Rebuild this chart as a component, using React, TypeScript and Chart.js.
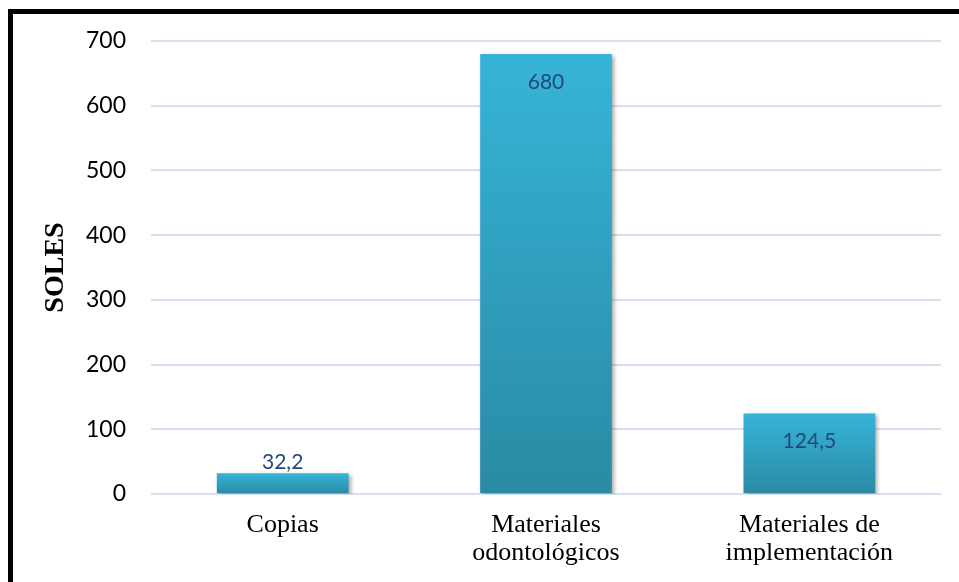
import React, { useEffect, useRef } from "react";
import { Chart, registerables } from "chart.js";

Chart.register(...registerables);

const categories: string[][] = [["Copias"], ["Materiales", "odontológicos"], ["Materiales de", "implementación"]];
const values: number[] = [32.2, 680, 124.5];
const valueLabels: string[] = ["32,2", "680", "124,5"];
const yTicks: number[] = [0, 100, 200, 300, 400, 500, 600, 700];

const TOP_COLOR = "#36B4D8";
const BOTTOM_COLOR = "#2A8AA4";
const LABEL_COLOR = "#23497A";

const shadowPlugin = {
  id: "barShadow",
  beforeDatasetsDraw(chart: any) {
    const ctx = chart.ctx;
    ctx.save();
    ctx.shadowColor = "rgba(0,0,0,0.35)";
    ctx.shadowBlur = 4;
    ctx.shadowOffsetX = 2;
    ctx.shadowOffsetY = 2;
  },
  afterDatasetsDraw(chart: any) {
    chart.ctx.restore();
  },
};

const labelPlugin = {
  id: "valueLabels",
  afterDraw(chart: any) {
    const ctx = chart.ctx;
    const meta = chart.getDatasetMeta(0);
    ctx.save();
    ctx.font = "21px Lato";
    ctx.fillStyle = LABEL_COLOR;
    ctx.textAlign = "center";
    ctx.textBaseline = "middle";
    meta.data.forEach((el: any, i: number) => {
      const h = el.base - el.y;
      const y = h > 45 ? el.y + 28 : el.y - 11;
      ctx.fillText(valueLabels[i], el.x, y);
    });
    ctx.restore();
  },
};

export default function App() {
  const ref = useRef<HTMLCanvasElement | null>(null);
  useEffect(() => {
    if (!ref.current) return;
    const chart = new Chart(ref.current, {
      type: "bar",
      data: {
        labels: categories,
        datasets: [
          {
            data: values,
            barPercentage: 0.5,
            categoryPercentage: 1,
            backgroundColor: (c: any) => {
              const ch = c.chart;
              if (!ch.chartArea || c.type !== "data") return TOP_COLOR;
              const ys = ch.scales.y;
              const top = ys.getPixelForValue(c.raw as number);
              const bottom = ys.getPixelForValue(0);
              const g = ch.ctx.createLinearGradient(0, top, 0, bottom);
              g.addColorStop(0, TOP_COLOR);
              g.addColorStop(1, BOTTOM_COLOR);
              return g;
            },
          },
        ],
      },
      options: {
        animation: false,
        responsive: false,
        layout: { padding: { left: 15, right: 18, top: 27, bottom: 0 } },
        plugins: { legend: { display: false }, tooltip: { enabled: false } },
        scales: {
          x: {
            grid: { display: false },
            border: { display: false },
            ticks: {
              color: "#000",
              font: { family: "Liberation Serif", size: 26, lineHeight: 1.05 },
              padding: 10,
              maxRotation: 0,
            },
            afterFit: (s: any) => {
              s.height = 88;
              s.paddingTop = 0;
              s.paddingBottom = 0;
            },
          },
          y: {
            min: 0,
            max: 700,
            afterBuildTicks: (s: any) => {
              s.ticks = yTicks.map((v) => ({ value: v }));
            },
            grid: { color: "#D6E0EF", lineWidth: 2, drawTicks: false },
            border: { display: false },
            ticks: {
              color: "#000",
              font: { family: "Lato", size: 23 },
              padding: 25,
            },
            title: {
              display: true,
              text: "SOLES",
              color: "#000",
              font: { family: "Liberation Serif", size: 28, weight: "bold" },
              padding: { top: 11, bottom: 0 },
            },
            afterFit: (s: any) => {
              s.width = 123;
              s.paddingTop = 0;
              s.paddingBottom = 0;
            },
          },
        },
      },
      plugins: [shadowPlugin, labelPlugin],
    });
    return () => chart.destroy();
  }, []);
  return (
    <div
      style={{
        position: "absolute",
        left: 8,
        top: 9,
        width: 946,
        height: 568,
        borderTop: "5px solid #000",
        borderLeft: "5px solid #000",
        overflow: "hidden",
        background: "#fff",
      }}
    >
      <canvas ref={ref} width={946} height={568} style={{ display: "block" }} />
    </div>
  );
}
